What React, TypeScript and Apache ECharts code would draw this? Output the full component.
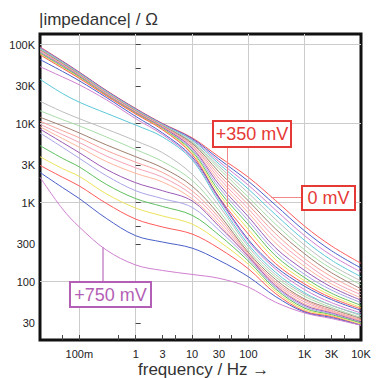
import React, { useEffect, useRef } from "react";
import * as echarts from "echarts";

const frequenciesHz = [0.02, 0.05, 0.1, 0.3, 1, 3, 10, 30, 100, 300, 1000, 3000, 10000];

// Electrode potentials (mV), one curve each
const potentialsMv = [
  0, 25, 50, 75, 100, 125, 150, 175, 200, 225, 250, 275, 300, 325, 350,
  375, 400, 425, 450, 475, 500, 525, 550, 575, 600, 625, 650, 675, 700, 725, 750,
];

// |impedance| in ohm, one row per potential, columns follow frequenciesHz
const impedanceOhm: number[][] = [
  [93300, 61700, 44700, 26300, 15500, 10000, 6610, 3800, 2090, 1070, 501, 282, 170],
  [91200, 61000, 44200, 26000, 15300, 9890, 6460, 3550, 1860, 933, 437, 245, 148],
  [91200, 60300, 43700, 25700, 15100, 9770, 6310, 3310, 1660, 813, 380, 214, 132],
  [89100, 59600, 43200, 25400, 15000, 9660, 6170, 3090, 1480, 708, 331, 186, 115],
  [87100, 58900, 42700, 25100, 14800, 9550, 5890, 2880, 1320, 617, 288, 162, 102],
  [87100, 58200, 42200, 24800, 14600, 9440, 5750, 2690, 1170, 537, 251, 145, 91],
  [85100, 57500, 41700, 24500, 14500, 9330, 5620, 2450, 1050, 468, 224, 129, 81],
  [83200, 56200, 41200, 24300, 14300, 9230, 5370, 2240, 933, 407, 195, 115, 74],
  [83200, 55600, 40700, 24000, 14100, 9120, 5250, 2040, 832, 355, 174, 102, 68],
  [81300, 55000, 40300, 23700, 14000, 9020, 5010, 1860, 741, 309, 155, 93, 62],
  [79400, 54300, 39800, 23400, 13800, 8910, 4900, 1700, 661, 269, 138, 85, 58],
  [79400, 53700, 39400, 23200, 13600, 8710, 4680, 1550, 589, 240, 123, 78, 54],
  [77600, 52500, 38900, 22900, 13500, 8610, 4470, 1410, 525, 214, 112, 71, 50],
  [75900, 51300, 38000, 22600, 13300, 8510, 4270, 1290, 457, 191, 102, 66, 47],
  [74100, 50100, 37200, 22400, 13200, 8320, 4070, 1170, 398, 170, 93, 62, 45],
  [64600, 45700, 34700, 21400, 12300, 7590, 3800, 1150, 339, 155, 87, 59, 43],
  [52500, 38900, 30900, 20000, 11500, 7240, 3630, 1100, 324, 145, 79, 54, 40],
  [36300, 24000, 18600, 13500, 9550, 6760, 3470, 1020, 295, 132, 72, 50, 38],
  [19100, 14100, 11500, 8510, 6030, 4270, 2290, 912, 275, 123, 69, 50, 37],
  [14500, 11200, 9330, 6760, 4680, 3310, 1910, 794, 251, 115, 65, 47, 35],
  [12000, 9330, 7590, 5370, 3800, 2750, 1620, 708, 234, 107, 60, 45, 34],
  [10700, 8130, 6610, 4570, 3240, 2400, 1410, 646, 224, 100, 58, 43, 33],
  [9770, 7240, 5750, 3890, 2750, 2090, 1260, 589, 214, 95, 55, 42, 32],
  [9120, 6460, 5010, 3310, 2340, 1820, 1120, 537, 204, 91, 52, 41, 32],
  [8510, 5750, 4270, 2630, 1780, 1410, 1050, 501, 209, 89, 50, 40, 31],
  [7590, 5010, 3630, 2190, 1410, 1120, 870, 447, 195, 85, 48, 39, 30],
  [5250, 3630, 2820, 1700, 1120, 891, 690, 389, 182, 81, 46, 38, 30],
  [3800, 2690, 2140, 1290, 851, 676, 535, 324, 166, 76, 44, 37, 29],
  [2950, 2090, 1620, 977, 617, 490, 400, 263, 145, 71, 42, 36, 28],
  [2400, 1550, 1120, 631, 380, 316, 265, 186, 115, 65, 41, 35, 28],
  [2090, 832, 490, 251, 162, 138, 123, 110, 85, 55, 40, 34, 28],
];

// Tick labels
const xLabelValuesHz = [0.1, 1, 3, 10, 30, 100, 1000, 3000, 10000];
const xLabelTexts = ["100m", "1", "3", "10", "30", "100", "1K", "3K", "10K"];
const yLabelValuesOhm = [30, 100, 300, 1000, 3000, 10000, 30000, 100000];
const yLabelTexts = ["30", "100", "300", "1K", "3K", "10K", "30K", "100K"];
const xGridHz = [0.1, 1, 10, 100, 1000];
const yGridOhm = [100, 1000, 10000, 100000];
const xMinorTicksHz = [0.05, 0.5, 3, 5, 30, 50, 500, 3000, 5000];
const yMinorTicksOhm = [30, 50, 300, 500, 3000, 5000, 30000, 50000];

// Axis extents (Hz, ohm)
const xRangeHz = [0.02, 10000];
const yRangeOhm = [18.2, 135800];

const palette = [
  "#ff5a5a", "#4a5fc8", "#d080d0", "#5cc8d8", "#bdbdbd", "#a8dca8", "#a08070",
  "#f7a29b", "#f5a3b8", "#ffb59f", "#9b59b6", "#a9a5e8", "#5fbf5f", "#ece45c",
];

const FONT = "'Liberation Sans', Arial, Helvetica, sans-serif";
const lg = (v: number) => Math.log10(v);

const labelFormatter = (vals: number[], texts: string[]) => (v: number) => {
  let best = 0;
  let d = Infinity;
  vals.forEach((x, i) => {
    const dd = Math.abs(lg(x) - v);
    if (dd < d) {
      d = dd;
      best = i;
    }
  });
  return texts[best];
};

export default function App() {
  const ref = useRef<HTMLDivElement>(null);

  useEffect(() => {
    if (!ref.current) return;
    const chart = echarts.init(ref.current, undefined, { renderer: "svg" });

    const xMin = lg(xRangeHz[0]);
    const xMax = lg(xRangeHz[1]);
    const yMin = lg(yRangeOhm[0]);
    const yMax = lg(yRangeOhm[1]);

    const tickStyle = { color: "#444", width: 1 };

    const series: any[] = impedanceOhm.map((row, i) => ({
      type: "line",
      name: `+${potentialsMv[i]} mV`,
      data: row.map((z, j) => [lg(frequenciesHz[j]), lg(z)]),
      showSymbol: false,
      symbol: "none",
      smooth: 0.35,
      silent: true,
      lineStyle: { width: 1, color: palette[i % palette.length] },
      itemStyle: { color: palette[i % palette.length] },
      z: 3,
    }));

    const red = "#e53935";
    const purple = "#b35fb5";

    chart.setOption({
      animation: false,
      backgroundColor: "#ffffff",
      grid: {
        left: 40,
        right: 15,
        top: 34,
        bottom: 38,
        show: true,
        borderColor: "#111",
        borderWidth: 3,
        backgroundColor: "transparent",
      },
      xAxis: [
        {
          type: "value",
          min: xMin,
          max: xMax,
          position: "bottom",
          axisLine: { show: false },
          axisTick: {
            show: true,
            inside: true,
            length: 5,
            customValues: xGridHz.map(lg),
            lineStyle: tickStyle,
          },
          splitLine: { show: true, lineStyle: { color: "#cccccc", width: 1 } },
          axisLabel: {
            customValues: xLabelValuesHz.map(lg),
            formatter: labelFormatter(xLabelValuesHz, xLabelTexts),
            margin: 8,
            fontSize: 11,
            color: "#222",
            fontFamily: FONT,
          },
        },
        {
          type: "value",
          min: xMin,
          max: xMax,
          position: "bottom",
          offset: 0,
          axisLine: { show: false },
          axisLabel: { show: false },
          splitLine: { show: false },
          axisTick: {
            show: true,
            inside: true,
            length: 5,
            customValues: xMinorTicksHz.map(lg),
            lineStyle: tickStyle,
          },
        },
      ],
      yAxis: [
        {
          type: "value",
          min: yMin,
          max: yMax,
          position: "left",
          axisLine: { show: false },
          axisTick: {
            show: true,
            inside: true,
            length: 5,
            customValues: yGridOhm.map(lg),
            lineStyle: tickStyle,
          },
          splitLine: { show: true, lineStyle: { color: "#cccccc", width: 1 } },
          axisLabel: {
            customValues: yLabelValuesOhm.map(lg),
            formatter: labelFormatter(yLabelValuesOhm, yLabelTexts),
            margin: 5,
            fontSize: 11,
            color: "#222",
            fontFamily: FONT,
          },
        },
        {
          type: "value",
          min: yMin,
          max: yMax,
          position: "left",
          offset: 0,
          axisLine: { show: false },
          axisLabel: { show: false },
          splitLine: { show: false },
          axisTick: {
            show: true,
            inside: true,
            length: 5,
            customValues: yMinorTicksOhm.map(lg),
            lineStyle: tickStyle,
          },
        },
      ],
      series,
      graphic: [
        {
          type: "text",
          left: 39,
          top: 11,
          style: { text: "|impedance| / Ω", font: `17px ${FONT}`, fill: "#333" },
        },
        {
          type: "text",
          left: 138,
          top: 361,
          style: { text: "frequency / Hz →", font: `17px ${FONT}`, fill: "#333" },
        },
        // +350 mV annotation
        {
          type: "line",
          shape: { x1: 227.5, y1: 147, x2: 227.5, y2: 207 },
          style: { stroke: "#f08a8a", lineWidth: 1 },
          z: 100,
        },
        {
          type: "rect",
          shape: { x: 213, y: 121, width: 78, height: 26 },
          style: { fill: "#fff", stroke: red, lineWidth: 2 },
          z: 101,
        },
        {
          type: "text",
          x: 252,
          y: 134,
          style: {
            text: "+350 mV",
            font: `18px ${FONT}`,
            fill: red,
            align: "center",
            verticalAlign: "middle",
          },
          z: 102,
        },
        // 0 mV annotation
        {
          type: "line",
          shape: { x1: 271, y1: 197.5, x2: 302, y2: 197.5 },
          style: { stroke: "#f08a8a", lineWidth: 1 },
          z: 100,
        },
        {
          type: "rect",
          shape: { x: 302, y: 186, width: 53, height: 24 },
          style: { fill: "#fff", stroke: red, lineWidth: 2 },
          z: 101,
        },
        {
          type: "text",
          x: 328.5,
          y: 198,
          style: {
            text: "0 mV",
            font: `18px ${FONT}`,
            fill: red,
            align: "center",
            verticalAlign: "middle",
          },
          z: 102,
        },
        // +750 mV annotation
        {
          type: "line",
          shape: { x1: 103, y1: 247, x2: 103, y2: 282 },
          style: { stroke: "#c98bcb", lineWidth: 1.5 },
          z: 100,
        },
        {
          type: "rect",
          shape: { x: 70, y: 282, width: 81, height: 25 },
          style: { fill: "#fff", stroke: purple, lineWidth: 2 },
          z: 101,
        },
        {
          type: "text",
          x: 110.5,
          y: 295,
          style: {
            text: "+750 mV",
            font: `18px ${FONT}`,
            fill: purple,
            align: "center",
            verticalAlign: "middle",
          },
          z: 102,
        },
      ],
    });

    return () => chart.dispose();
  }, []);

  return (
    <div
      ref={ref}
      style={{
        position: "fixed",
        left: 0,
        top: 0,
        width: 376,
        height: 378,
        background: "#fff",
      }}
    />
  );
}
